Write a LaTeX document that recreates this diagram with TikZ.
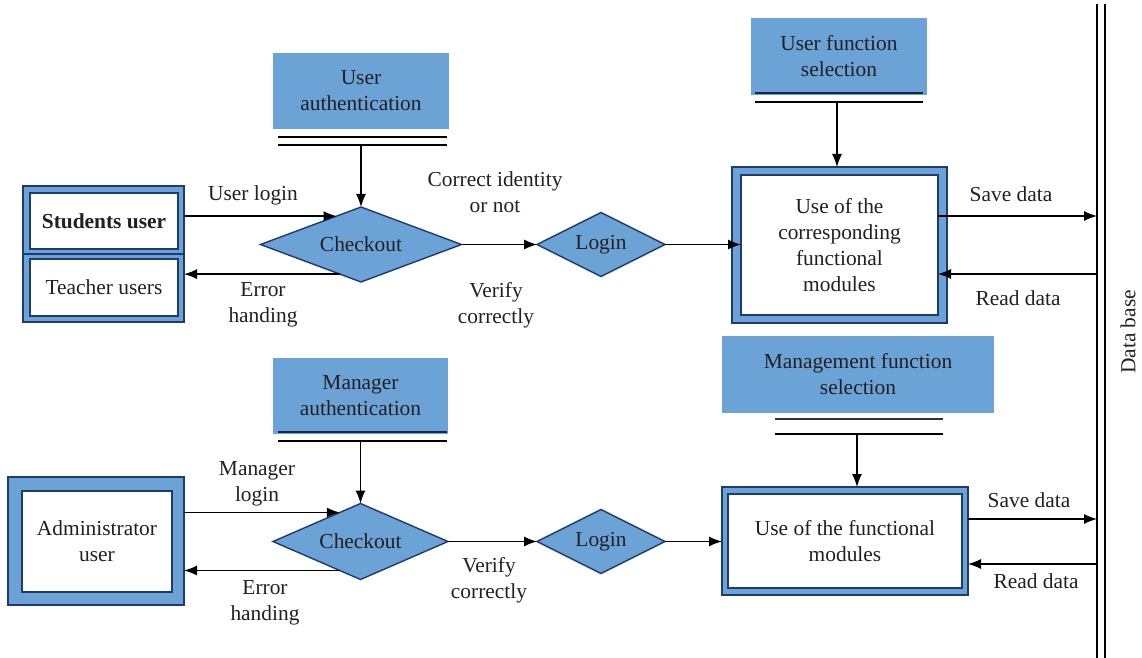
\documentclass[tikz,border=0pt]{standalone}
\usepackage{fontspec}
\setmainfont{Liberation Serif}
\usetikzlibrary{arrows.meta,shapes.geometric,calc}
\definecolor{fillblue}{HTML}{6CA3D7}
\definecolor{navy}{HTML}{1F3A6E}
\definecolor{txt}{HTML}{231F20}
\begin{document}
\begin{tikzpicture}[x=0.5pt,y=-0.5pt,
  every node/.style={font=\fontsize{10.7}{13}\selectfont, text=txt, outer sep=0pt},
  bluebox/.style={rectangle, fill=fillblue, draw=navy, line width=0.8pt, inner sep=0pt},
  plainblue/.style={rectangle, fill=fillblue, inner sep=0pt, align=center},
  whitebox/.style={rectangle, fill=white, draw=navy, line width=0.8pt, inner sep=0pt, align=center},
  dia/.style={diamond, fill=fillblue, draw=navy, line width=0.7pt, inner sep=0pt, aspect=2},
  lbl/.style={align=center, inner sep=0pt},
  conn/.style={line width=0.65pt, -{Latex[length=6.5pt,width=5pt]}},
  dbl/.style={line width=0.65pt, black}]
\useasboundingbox (0,0) rectangle (1142,658);

% ---------- top: users ----------
\node[bluebox, minimum width=80.5pt, minimum height=68pt] (grp) at (103.5,254) {};
\draw[navy, line width=0.8pt] (grp.west |- 0,254) -- (grp.east |- 0,254);
\node[whitebox, minimum width=74pt, minimum height=28pt] (stud) at (104,221) {\textbf{Students user}};
\node[whitebox, minimum width=74pt, minimum height=28.5pt] (teach) at (104,287.5) {Teacher users};

\node[plainblue, minimum width=88pt, minimum height=38pt] (ua) at (361,91) {User\\authentication};
\coordinate (ua1l) at (278,137); \coordinate (ua1r) at (447,137);
\coordinate (ua2l) at (278,145); \coordinate (ua2r) at (447,145);
\draw[dbl] (ua1l) -- (ua1r);
\draw[dbl] (ua2l) -- (ua2r);
\coordinate (uam) at (361,145);

\node[dia, minimum width=100.5pt, minimum height=37.5pt] (ck1) at (361,244.5) {Checkout};
\node[dia, minimum width=64pt, minimum height=32pt] (lg1) at (601,244.5) {Login};

\node[plainblue, minimum width=88pt, minimum height=38.5pt] (ufs) at (839,56.5) {User function\\selection};
\coordinate (uf1l) at (755,93); \coordinate (uf1r) at (923,93);
\coordinate (uf2l) at (755,102); \coordinate (uf2r) at (923,102);
\draw[line width=0.8pt, navy!70!black] (uf1l) -- (uf1r);
\draw[dbl] (uf2l) -- (uf2r);
\coordinate (ufm) at (837,102);

\node[bluebox, minimum width=107.5pt, minimum height=78pt] (fm1o) at (839.5,245) {};
\node[whitebox, minimum width=98.5pt, minimum height=70pt] (fm1) at (839.5,245) {Use of the\\corresponding\\functional\\modules};

% connectors top
\coordinate (ck1in) at ($(ck1.west)!0.757!(ck1.north)$);
\coordinate (ck1out) at ($(ck1.west)!0.79!(ck1.south)$);
\draw[conn] (grp.east |- ck1in) -- (ck1in);
\draw[conn] (ck1out) -- (grp.east |- ck1out);
\draw[conn] (uam) -- (uam |- ck1.north);
\draw[conn] (ck1.east) -- (lg1.west);
\draw[conn] (lg1.east) -- (fm1.west |- lg1.east);
\draw[conn] (ufm) -- (ufm |- fm1o.north);

% database
\coordinate (dbt1) at (1097,4); \coordinate (dbb1) at (1097,658);
\coordinate (dbt2) at (1105,4); \coordinate (dbb2) at (1105,658);
\draw[dbl] (dbt1) -- (dbb1);
\draw[dbl] (dbt2) -- (dbb2);
\node[lbl, rotate=90] (dbl) at (1128,332) {Data base};

\coordinate (sv1) at (1097,216);
\coordinate (rd1) at (1097,274);
\draw[conn] (fm1.east |- sv1) -- (sv1);
\draw[conn] (rd1) -- (fm1.east |- rd1);

% labels top
\node[lbl] (l1) at (253,195) {User login};
\node[lbl] (l2) at (263,305) {Error\\handing};
\node[lbl] (l3) at (495,192) {Correct identity\\or not};
\node[lbl] (l4) at (496,305) {Verify\\correctly};
\node[lbl] (l5) at (1011,194) {Save data};
\node[lbl] (l6) at (1018,298) {Read data};

% ---------- bottom: manager ----------
\node[bluebox, minimum width=88pt, minimum height=64pt] (admo) at (96,541) {};
\node[whitebox, minimum width=75pt, minimum height=50.5pt] (adm) at (97,541.5) {Administrator\\user};

\node[plainblue, minimum width=87.5pt, minimum height=38pt] (ma) at (360.5,396) {Manager\\authentication};
\coordinate (ma1l) at (278,432); \coordinate (ma1r) at (447,432);
\coordinate (ma2l) at (278,441); \coordinate (ma2r) at (447,441);
\draw[line width=0.8pt, navy!70!black] (ma1l) -- (ma1r);
\draw[dbl] (ma2l) -- (ma2r);
\coordinate (mam) at (360.5,441);

\node[dia, minimum width=87.5pt, minimum height=38pt] (ck2) at (360.5,541.5) {Checkout};
\node[dia, minimum width=64pt, minimum height=32pt] (lg2) at (601,541.5) {Login};

\node[plainblue, minimum width=136pt, minimum height=38.5pt] (mfs) at (858,374.5) {Management function\\selection};
\coordinate (mf1l) at (775,419); \coordinate (mf1r) at (943,419);
\coordinate (mf2l) at (775,434); \coordinate (mf2r) at (943,434);
\draw[line width=0.8pt, black!80] (mf1l) -- (mf1r);
\draw[dbl] (mf2l) -- (mf2r);
\coordinate (mfm) at (857,434);

\node[bluebox, minimum width=123pt, minimum height=54pt] (fm2o) at (845,541) {};
\node[whitebox, minimum width=117pt, minimum height=47pt] (fm2) at (845,541) {Use of the functional\\modules};

\coordinate (ck2in) at ($(ck2.west)!0.763!(ck2.north)$);
\coordinate (ck2out) at ($(ck2.west)!0.763!(ck2.south)$);
\draw[conn] (admo.east |- ck2in) -- (ck2in);
\draw[conn] (ck2out) -- (admo.east |- ck2out);
\draw[conn] (mam) -- (mam |- ck2.north);
\draw[conn] (ck2.east) -- (lg2.west);
\draw[conn] (lg2.east) -- (fm2o.west |- lg2.east);
\draw[conn] (mfm) -- (mfm |- fm2o.north);

\coordinate (sv2) at (1097,519);
\coordinate (rd2) at (1097,564);
\draw[conn] (fm2o.east |- sv2) -- (sv2);
\draw[conn] (rd2) -- (fm2o.east |- rd2);

\node[lbl] (m1) at (257,484) {Manager\\login};
\node[lbl] (m2) at (265,603) {Error\\handing};
\node[lbl] (m3) at (489,580) {Verify\\correctly};
\node[lbl] (m4) at (1029,500) {Save data};
\node[lbl] (m5) at (1036,581) {Read data};
\end{tikzpicture}
\end{document}
